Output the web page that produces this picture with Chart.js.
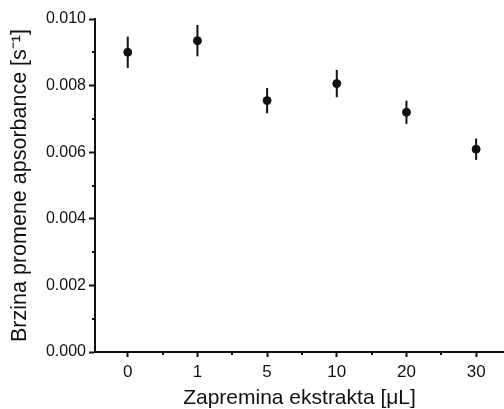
<!DOCTYPE html>
<html>
<head>
<meta charset="utf-8">
<script src="https://cdn.jsdelivr.net/npm/chart.js@4/dist/chart.umd.min.js"></script>
<style>
  html, body { margin: 0; padding: 0; background: #fff; overflow: hidden; }
  /* slightly wider than the window: the x axis runs off the right edge like the original */
  #wrap { width: 509px; height: 409px; position: relative; }
  canvas { display: block; }
</style>
</head>
<body>
<div id="wrap"><canvas id="chart"></canvas></div>
<script>
const categories = ["0", "1", "5", "10", "20", "30"];
const rates = [0.00900, 0.00935, 0.00755, 0.00806, 0.00720, 0.00609];
const errors = [0.00047, 0.00047, 0.00038, 0.00041, 0.00035, 0.00032];
const yTicks = [0, 0.002, 0.004, 0.006, 0.008, 0.010];

const ink = "#111";
const fam = "Liberation Sans, Arial, sans-serif";

// error bars + minor ticks, drawn through the chart's scales
const extras = {
  id: "extras",
  afterDatasetsDraw(chart) {
    const ctx = chart.ctx;
    const x = chart.scales.x, y = chart.scales.y;
    ctx.save();
    ctx.strokeStyle = ink;
    ctx.lineWidth = 2;
    rates.forEach((v, i) => {
      const px = x.getPixelForValue(i);
      ctx.beginPath();
      ctx.moveTo(px, y.getPixelForValue(v - errors[i]));
      ctx.lineTo(px, y.getPixelForValue(v + errors[i]));
      ctx.stroke();
    });
    // minor ticks
    for (let i = 0; i < yTicks.length - 1; i++) {
      const py = Math.round(y.getPixelForValue((yTicks[i] + yTicks[i + 1]) / 2));
      ctx.beginPath();
      ctx.moveTo(y.right - 3, py);
      ctx.lineTo(y.right, py);
      ctx.stroke();
    }
    for (let i = 0; i < categories.length; i++) {
      const px = Math.round(x.getPixelForValue(i + 0.5));
      if (px > chart.chartArea.right) continue;
      ctx.beginPath();
      ctx.moveTo(px, x.top);
      ctx.lineTo(px, x.top + 3);
      ctx.stroke();
    }
    ctx.restore();
  }
};

new Chart(document.getElementById("chart"), {
  type: "scatter",
  data: {
    datasets: [{
      data: rates.map((v, i) => ({ x: i, y: v })),
      backgroundColor: ink,
      borderColor: ink,
      pointRadius: 4,
      pointHoverRadius: 4
    }]
  },
  options: {
    responsive: true,
    maintainAspectRatio: false,
    animation: false,
    layout: { padding: { top: 19, right: 0, left: 0, bottom: 0 } },
    plugins: { legend: { display: false }, tooltip: { enabled: false } },
    scales: {
      x: {
        type: "linear",
        min: -0.47,
        max: 5.4,
        afterBuildTicks: s => { s.ticks = categories.map((c, i) => ({ value: i })); },
        afterFit: s => { s.height = 57; },
        ticks: {
          callback: v => categories[v],
          color: ink,
          font: { family: fam, size: 17 },
          padding: 5,
          maxRotation: 0
        },
        grid: { drawOnChartArea: false, drawTicks: true, tickLength: 5, tickWidth: 2, tickColor: ink },
        border: { display: true, width: 2, color: ink },
        title: {
          display: true,
          text: "Zapremina ekstrakta [μL]",
          color: ink,
          font: { family: fam, size: 21, lineHeight: 1 },
          padding: { top: 0, bottom: 0 }
        }
      },
      y: {
        min: 0,
        max: 0.010,
        afterBuildTicks: s => { s.ticks = yTicks.map(v => ({ value: v })); },
        afterFit: s => { s.width = 95; },
        ticks: {
          callback: v => v.toFixed(3),
          color: ink,
          font: { family: fam, size: 16 },
          padding: 3
        },
        grid: { drawOnChartArea: false, drawTicks: true, tickLength: 6, tickWidth: 2, tickColor: ink },
        border: { display: true, width: 2, color: ink },
        title: {
          display: true,
          text: "Brzina promene apsorbance [s⁻¹]",
          color: ink,
          font: { family: fam, size: 21.5, lineHeight: 1 },
          padding: { top: 9, bottom: 0 }
        }
      }
    }
  },
  plugins: [extras]
});
</script>
</body>
</html>
